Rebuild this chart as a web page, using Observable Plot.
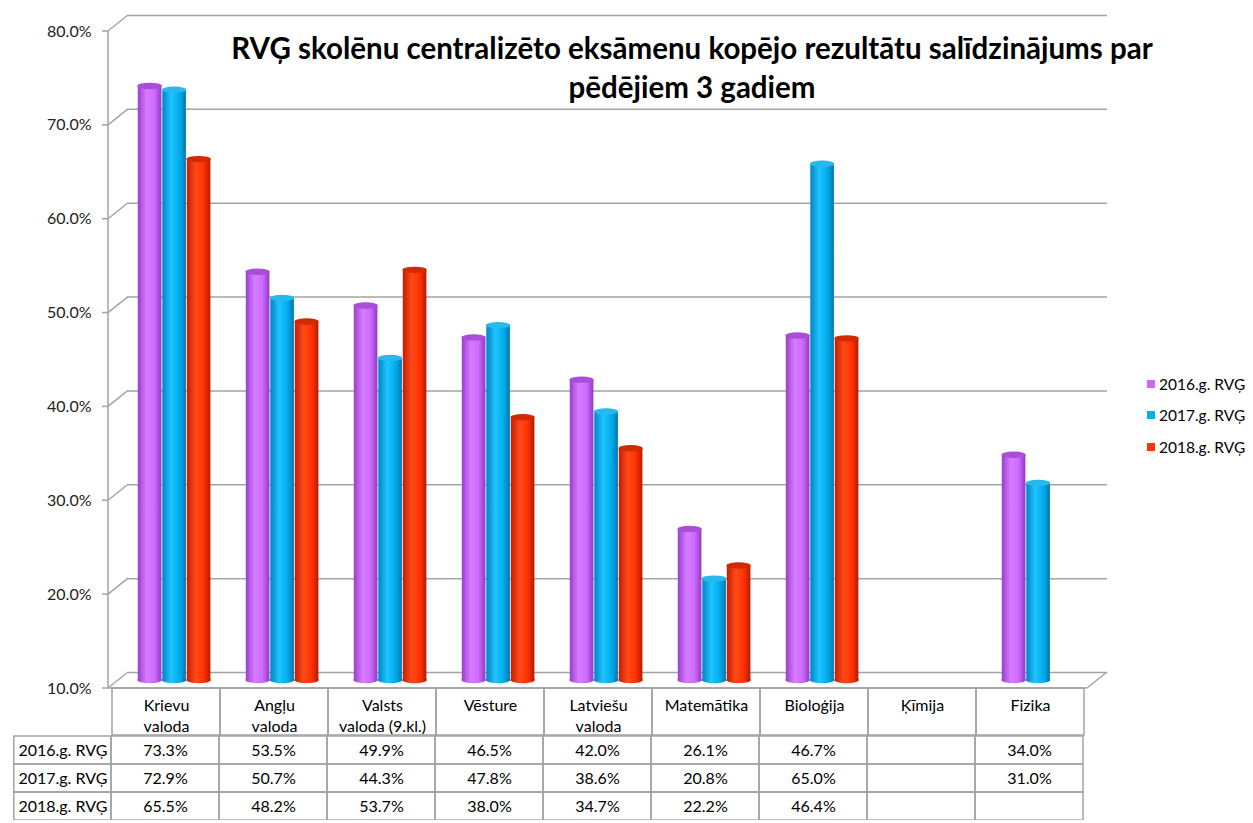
<!DOCTYPE html>
<html><head><meta charset="utf-8">
<script src="https://cdn.jsdelivr.net/npm/d3@7"></script>
<script src="https://cdn.jsdelivr.net/npm/@observablehq/plot@0.6"></script>
<style>
body{margin:0;background:#fff;font-family:Lato,sans-serif;}
#wrap{position:relative;width:1253px;}
#wrap svg{display:block;overflow:visible;}
#title{position:absolute;left:192px;width:1000px;top:28px;text-align:center;font:bold 29.5px/39px Lato,sans-serif;color:#000;white-space:nowrap;}
#legend{position:absolute;left:1147px;top:368px;font:15.5px Lato,sans-serif;color:#000;}
#legend div{height:31.5px;display:flex;align-items:center;}
#legend span.sw{display:inline-block;width:8px;height:8px;margin-right:4px;}
</style></head><body>
<div id="wrap">
  <div id="charts"></div>
  <div id="title"></div>
  <div id="legend"></div>
</div>
<script>
const titleLines = ["RVĢ skolēnu centralizēto eksāmenu kopējo rezultātu salīdzinājums par", "pēdējiem 3 gadiem"];
const subjects = ["Krievu valoda","Angļu valoda","Valsts valoda (9.kl.)","Vēsture","Latviešu valoda","Matemātika","Bioloģija","Ķīmija","Fizika"];
const headerLabels = ["Krievu\nvaloda","Angļu\nvaloda","Valsts\nvaloda (9.kl.)","Vēsture","Latviešu\nvaloda","Matemātika","Bioloģija","Ķīmija","Fizika"];
const series = ["2016.g. RVĢ","2017.g. RVĢ","2018.g. RVĢ"];
const values2016 = [73.3,53.5,49.9,46.5,42.0,26.1,46.7,null,34.0];
const values2017 = [72.9,50.7,44.3,47.8,38.6,20.8,65.0,null,31.0];
const values2018 = [65.5,48.2,53.7,38.0,34.7,22.2,46.4,null,null];
const yTicks = [10,20,30,40,50,60,70,80];
const colors = ["#cc66ff","#00b0f0","#ff3300"];

const allValues = [values2016, values2017, values2018];
const rows = [];
series.forEach((s, i) => subjects.forEach((sub, j) => rows.push({series: s, si: i, subject: sub, value: allValues[i][j]})));
const barData = rows.filter(d => d.value != null);

const W = 1253, ML = 108, MR = 166, base = yTicks[0];
const depthX = 20, depthY = 16, midY = 8;
const barW = 24.4;
const offsets = [-16.4, 8.1, 32.6];
const grads = [
  ["#9a3fcc","#d77cff","#cf6cff","#9438c4"],
  ["#0084c4","#22c4ff","#00b0f0","#0078b4"],
  ["#c41e00","#ff4a1a","#ff3300","#b81a00"]
];
const capColors = ["#a84ed8","#29b8ec","#d22a00"];
const grey = "#a3a3a3";
const FS = 16;

function defsMark() {
  const g = d3.create("svg:defs");
  grads.forEach((c, i) => {
    const lg = g.append("linearGradient").attr("id", "cyl" + i).attr("x1", 0).attr("x2", 1).attr("y1", 0).attr("y2", 0);
    [[0, c[0]], [0.38, c[1]], [0.7, c[2]], [1, c[3]]].forEach(([o, col]) => lg.append("stop").attr("offset", o).attr("stop-color", col));
  });
  return g.node();
}

function frameMark(index, scales) {
  const g = d3.create("svg:g").attr("stroke", grey).attr("stroke-width", 1.5).attr("fill", "none");
  const y = scales.y, x0 = ML, x1 = W - MR;
  g.append("line").attr("x1", x0).attr("x2", x0).attr("y1", y(base)).attr("y2", y(yTicks[yTicks.length-1]));
  for (const t of yTicks) {
    g.append("line").attr("x1", x0 - 6).attr("x2", x0).attr("y1", y(t)).attr("y2", y(t));
    g.append("line").attr("x1", x0).attr("x2", x0 + depthX).attr("y1", y(t)).attr("y2", y(t) - depthY);
  }
  g.append("line").attr("x1", x0).attr("x2", x1).attr("y1", y(base)).attr("y2", y(base));
  g.append("line").attr("x1", x1).attr("x2", x1 + depthX).attr("y1", y(base)).attr("y2", y(base) - depthY);
  return g.node();
}

function capsMark(which) {
  return (index, scales) => {
    const g = d3.create("svg:g");
    const bw = scales.x.bandwidth();
    for (const d of barData) {
      const cx = scales.x(d.subject) + bw / 2 + offsets[d.si];
      const cy = (which === "top" ? scales.y(d.value) : scales.y(base)) - midY;
      g.append("ellipse").attr("cx", cx).attr("cy", cy).attr("rx", barW / 2).attr("ry", 3.2)
        .attr("fill", which === "top" ? capColors[d.si] : `url(#cyl${d.si})`);
    }
    return g.node();
  };
}

const ins = (108.78 - barW) / 2;
const chart = Plot.plot({
  width: W, height: 688,
  marginLeft: ML, marginRight: MR, marginTop: 31, marginBottom: 0,
  style: {fontFamily: "Lato, sans-serif", fontSize: FS + "px", color: "#000", background: "transparent"},
  x: {type: "band", domain: subjects, padding: 0, axis: null},
  y: {domain: [base, 80], axis: null},
  marks: [
    defsMark,
    Plot.ruleY(yTicks, {stroke: grey, strokeWidth: 1.5, dx: depthX, dy: -depthY}),
    frameMark,
    Plot.text(yTicks, {y: d => d, text: d => d.toFixed(1) + "%", frameAnchor: "left", textAnchor: "end", dx: -17, fill: "#222", fontSize: FS}),
    capsMark("bottom"),
    ...series.map((s, i) => Plot.barY(barData.filter(d => d.si === i), {
      x: "subject", y1: base, y2: "value", fill: `url(#cyl${i})`,
      insetLeft: ins, insetRight: ins, dx: offsets[i], dy: -midY
    })),
    capsMark("top")
  ]
});

const header = Plot.plot({
  width: W, height: 47,
  marginLeft: ML, marginRight: MR, marginTop: 0, marginBottom: 0,
  style: {fontFamily: "Lato, sans-serif", fontSize: FS + "px", color: "#000", background: "transparent"},
  x: {type: "band", domain: subjects, padding: 0, axis: null},
  marks: [
    Plot.cell(subjects, {x: d => d, stroke: grey, strokeWidth: 1.5, fill: "none"}),
    Plot.text(subjects, {x: d => d, text: (d, i) => headerLabels[i], frameAnchor: "top", lineAnchor: "top", dy: 8, lineHeight: 1.3, fontSize: FS})
  ]
});

const tableCells = [];
series.forEach((s, i) => subjects.forEach((sub, j) => tableCells.push({row: s, col: sub, value: allValues[i][j]})));
const bwT = (W - MR - ML) / subjects.length;
const table = Plot.plot({
  width: W, height: 85,
  marginLeft: 0, marginRight: 0, marginTop: 0, marginBottom: 0,
  style: {fontFamily: "Lato, sans-serif", fontSize: FS + "px", color: "#000", background: "transparent"},
  x: {type: "band", domain: ["label", ...subjects], range: [ML - bwT, W - MR], padding: 0, axis: null},
  y: {type: "band", domain: series, padding: 0, axis: null},
  marks: [
    Plot.cell(series, {x: () => "label", y: d => d, stroke: grey, strokeWidth: 1.5, fill: "none", insetLeft: bwT - (ML - 10)}),
    Plot.cell(tableCells, {x: "col", y: "row", stroke: grey, strokeWidth: 1.5, fill: "none"}),
    Plot.text(series, {x: () => "label", y: d => d, text: d => d, dx: (bwT - (ML - 10)) / 2, fontSize: FS}),
    Plot.text(tableCells.filter(d => d.value != null), {x: "col", y: "row", text: d => d.value.toFixed(1) + "%", fontSize: FS})
  ]
});

const charts = document.getElementById("charts");
charts.append(chart, header, table);

const title = d3.select("#title");
titleLines.forEach((t, i) => { if (i) title.append("br"); title.append("span").text(t); });

const legend = d3.select("#legend");
series.forEach((s, i) => {
  const row = legend.append("div");
  row.append("span").attr("class", "sw").style("background", colors[i]);
  row.append("span").text(s);
});
</script>
</body></html>
